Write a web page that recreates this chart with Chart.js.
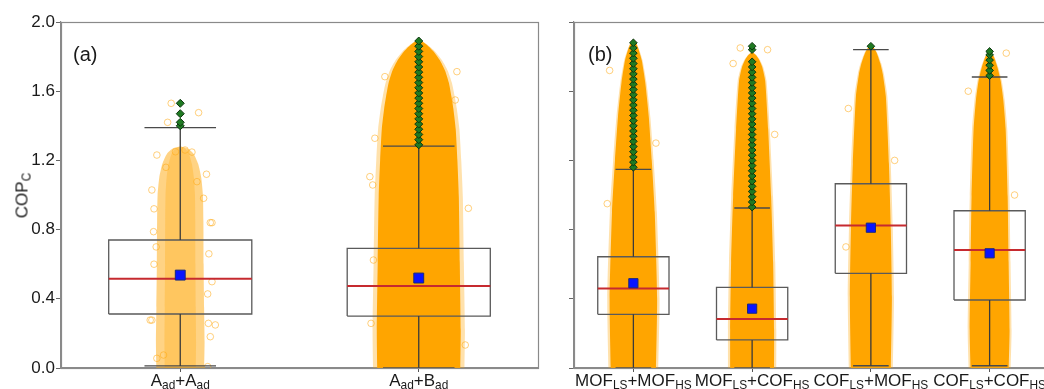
<!DOCTYPE html>
<html><head><meta charset="utf-8">
<script src="https://cdn.jsdelivr.net/npm/chart.js@4.4.1/dist/chart.umd.min.js"></script>
<style>
html,body{margin:0;padding:0;background:#fff;width:1044px;height:389px;overflow:hidden;position:relative;font-family:"Liberation Sans",Arial,sans-serif;color:#1a1a1a;}
#ca{position:absolute;left:0;top:0;}
#cb{position:absolute;left:540px;top:0;}
.lbl{position:absolute;white-space:nowrap;transform:translateX(-50%);}
.s{font-size:0.7em;vertical-align:-0.28em;line-height:0;}
#ytitle{position:absolute;width:200px;text-align:center;font-size:17px;line-height:17px;left:-78px;top:186.5px;transform:rotate(-90deg);}
.pl{position:absolute;font-size:20px;line-height:20px;top:44px;}
</style></head><body>
<canvas id="ca" width="548" height="389"></canvas>
<canvas id="cb" width="520" height="389"></canvas>
<div id="ytitle">COP<span class="s">C</span></div>
<div class="pl" style="left:73px">(a)</div>
<div class="pl" style="left:588px">(b)</div>
<script>
const FONT = "'Liberation Sans', Arial, Helvetica, sans-serif";
const yTicks = [0.0, 0.4, 0.8, 1.2, 1.6, 2.0];

// ---------- panel (a) ----------
const catsA = ['A_ad+A_ad', 'A_ad+B_ad'];
const q1A   = [0.312, 0.300];
const medA  = [0.516, 0.474];
const q3A   = [0.740, 0.692];
const meanA = [0.537, 0.520];
const whLoA = [0.012, 0.000];
const whHiA = [1.390, 1.283];
const outA = [
  [1.40, 1.42, 1.47, 1.53],
  [1.29, 1.32, 1.35, 1.38, 1.41, 1.44, 1.47, 1.50, 1.53, 1.56, 1.59, 1.62, 1.65, 1.68, 1.71, 1.74, 1.77, 1.80, 1.83, 1.86, 1.89]
];
// jitter cloud envelope: [COP value, half spread in category units]
const cloudA = [
  [[-0.02,0.1],[0.15,0.102],[0.35,0.1],[0.6,0.098],[0.85,0.097],[1.0,0.095],[1.1,0.088],[1.18,0.075],[1.24,0.055],[1.27,0.03],[1.28,0.0]],
  [[-0.02,0.174],[0.22,0.176],[0.61,0.172],[0.99,0.168],[1.2,0.162],[1.38,0.155],[1.5,0.145],[1.57,0.137],[1.65,0.126],[1.72,0.11],[1.78,0.088],[1.83,0.062],[1.87,0.032],[1.90,0.0]]
];
// isolated scatter points: [offset in category units, COP value]
const strayA = [
  [[-0.038,1.53],[0.077,1.476],[-0.053,1.42],[-0.098,1.231],[0.049,1.248],[-0.119,1.029],[0.07,1.077],[0.098,0.981],[0.133,0.84],[0.126,0.84],[-0.112,0.788],[-0.101,0.70],[0.133,0.499],[0.115,0.428],[-0.119,0.277],[-0.126,0.277],[0.147,0.249],[0.126,0.181],[-0.07,0.075],[0.115,0.008],[-0.098,0.056],[0.118,0.258],[-0.11,0.60],[0.12,0.66],[-0.11,0.92],[0.11,1.12],[-0.06,1.16],[0.02,1.26],[-0.02,1.25]],
  [[-0.205,1.106],[-0.193,1.058],[-0.184,1.328],[0.208,0.923],[-0.19,0.624],[-0.2,0.258],[0.195,0.133],[-0.142,1.684],[0.153,1.549],[0.16,1.713]]
];

// ---------- panel (b) ----------
const catsB = ['MOF_LS+MOF_HS', 'MOF_LS+COF_HS', 'COF_LS+MOF_HS', 'COF_LS+COF_HS'];
const q1B   = [0.310, 0.162, 0.547, 0.393];
const medB  = [0.460, 0.283, 0.824, 0.682];
const q3B   = [0.643, 0.466, 1.065, 0.909];
const meanB = [0.490, 0.343, 0.811, 0.663];
const whLoB = [0.000, 0.000, 0.013, 0.013];
const whHiB = [1.148, 0.925, 1.840, 1.682];
const outB = [
  [1.16, 1.19, 1.22, 1.25, 1.28, 1.31, 1.34, 1.37, 1.40, 1.43, 1.46, 1.49, 1.52, 1.55, 1.58, 1.61, 1.64, 1.67, 1.70, 1.73, 1.76, 1.79, 1.82, 1.85, 1.88],
  [0.93, 0.96, 0.99, 1.02, 1.05, 1.08, 1.11, 1.14, 1.17, 1.20, 1.23, 1.26, 1.29, 1.32, 1.35, 1.38, 1.41, 1.44, 1.47, 1.50, 1.53, 1.56, 1.59, 1.62, 1.65, 1.68, 1.71, 1.74, 1.77, 1.84, 1.86],
  [1.86],
  [1.69, 1.72, 1.75, 1.78, 1.81, 1.83]
];
const cloudB = [
  [[-0.02,0.19],[0.4,0.2],[0.9,0.18],[1.2,0.155],[1.45,0.13],[1.65,0.1],[1.78,0.07],[1.84,0.045],[1.88,0.022],[1.90,0.0]],
  [[-0.02,0.185],[0.22,0.185],[0.61,0.177],[0.99,0.16],[1.38,0.135],[1.66,0.11],[1.74,0.085],[1.78,0.06],[1.81,0.03],[1.83,0.0]],
  [[-0.02,0.168],[0.41,0.177],[0.80,0.168],[1.18,0.152],[1.57,0.126],[1.7,0.1],[1.76,0.08],[1.82,0.05],[1.85,0.025],[1.87,0.0]],
  [[-0.02,0.16],[0.22,0.168],[0.61,0.16],[0.99,0.152],[1.38,0.135],[1.55,0.115],[1.66,0.093],[1.74,0.065],[1.8,0.035],[1.84,0.0]]
];
const strayB = [
  [[-0.2,1.72],[0.19,1.3],[-0.22,0.95]],
  [[-0.16,1.76],[0.19,1.35],[0.13,1.84],[-0.1,1.85]],
  [[-0.19,1.5],[0.2,1.2],[-0.21,0.7]],
  [[-0.18,1.6],[0.21,1.0],[0.14,1.82]]
];

// ---------- builders ----------
function envPts(i, env, k) {
  const left = env.map(([v, w]) => ({x: i - w * k, y: v}));
  const right = env.slice().reverse().map(([v, w]) => ({x: i + w * k, y: v}));
  return left.concat(right);
}
function seg(x1, y1, x2, y2, color, w, order) {
  return {type: 'line', data: [{x: x1, y: y1}, {x: x2, y: y2}], borderColor: color, borderWidth: w,
          pointRadius: 0, fill: false, order, clip: false, tension: 0};
}
function buildDatasets(P, sty) {
  const ds = [];
  P.cats.forEach((c, i) => {
    const bh = 0.3, ch = 0.15;
    const dense = sty.dense[i];
    ds.push({type: 'line', data: envPts(i, P.cloud[i], dense ? 1.1 : 1.0), fill: 'shape',
      backgroundColor: dense ? 'rgba(255,165,0,0.33)' : 'rgba(255,168,10,0.5)', borderColor: 'rgba(0,0,0,0)', borderWidth: 0,
      pointRadius: 0, tension: 0.2, order: 30});
    ds.push({type: 'line', data: envPts(i, P.cloud[i], dense ? 1.0 : 0.65), fill: 'shape',
      backgroundColor: dense ? '#FFA500' : 'rgba(255,165,0,0.28)', borderColor: 'rgba(0,0,0,0)', borderWidth: 0,
      pointRadius: 0, tension: 0.2, order: 29});
    ds.push({type: 'line', showLine: false, data: P.stray[i].map(([o, v]) => ({x: i + o, y: v})),
      pointStyle: 'circle', pointRadius: 3.3, backgroundColor: 'rgba(0,0,0,0)',
      borderColor: 'rgba(255,170,20,0.55)', pointBorderWidth: 1, order: 28});
    // box
    ds.push({type: 'line', data: [{x: i - bh, y: P.q1[i]}, {x: i + bh, y: P.q1[i]}, {x: i + bh, y: P.q3[i]}, {x: i - bh, y: P.q3[i]}, {x: i - bh, y: P.q1[i]}],
      borderColor: '#5a5a5a', borderWidth: 1.3, pointRadius: 0, fill: false, tension: 0, order: 10, clip: false});
    // whiskers & caps
    ds.push(seg(i, P.q3[i], i, P.hi[i], '#3a3a3a', 1.3, 9));
    ds.push(seg(i, P.q1[i], i, P.lo[i], '#3a3a3a', 1.3, 9));
    ds.push(seg(i - ch, P.hi[i], i + ch, P.hi[i], '#4a4a4a', 1.3, 9));
    ds.push(seg(i - ch, P.lo[i], i + ch, P.lo[i], '#4a4a4a', 1.3, 9));
    // median
    ds.push(seg(i - bh, P.med[i], i + bh, P.med[i], '#c62a2f', 2, 8));
    // outliers
    ds.push({type: 'line', showLine: false, data: P.out[i].map(v => ({x: i, y: v})),
      pointStyle: 'rectRot', pointRadius: sty.outR, backgroundColor: '#1f7a22', borderColor: '#0c350e',
      pointBorderWidth: 1, order: 5, clip: false});
    // mean
    ds.push({type: 'line', showLine: false, data: [{x: i, y: P.mean[i]}],
      pointStyle: 'rect', pointRadius: sty.meanR, backgroundColor: '#0a14ff', borderColor: '#1b2a7a',
      pointBorderWidth: 1, order: 1});
  });
  return ds;
}

const framePlugin = {
  id: 'frame',
  afterDraw(chart) {
    const {ctx, chartArea: a} = chart;
    ctx.save();
    ctx.strokeStyle = '#8a8a8a';
    ctx.lineWidth = 1.2;
    ctx.strokeRect(Math.round(a.left) + 0.5, Math.round(a.top) + 0.5, Math.round(a.right - a.left), Math.round(a.bottom - a.top));
    ctx.restore();
  }
};

function makeChart(id, P, sty) {
  return new Chart(document.getElementById(id), {
    type: 'line',
    data: {datasets: buildDatasets(P, sty)},
    plugins: [framePlugin],
    options: {
      responsive: false, animation: false, devicePixelRatio: 1,
      layout: {padding: {top: 22, right: sty.padRight, left: 0, bottom: 0}},
      plugins: {legend: {display: false}, tooltip: {enabled: false}},
      events: [],
      scales: {
        x: {type: 'linear', min: -0.5, max: P.cats.length - 0.5,
          afterBuildTicks: s => { s.ticks = P.cats.map((_, i) => ({value: i})); },
          afterFit: s => { s.height = 21; },
          ticks: {callback: () => '', font: {family: FONT, size: 17}},
          grid: {drawOnChartArea: false, drawTicks: true, tickLength: 4, color: '#555', lineWidth: 1},
          border: {display: true, color: '#8a8a8a', width: 1.2}},
        y: {type: 'linear', min: 0, max: 2,
          afterBuildTicks: s => { s.ticks = yTicks.map(v => ({value: v})); },
          afterFit: s => { s.width = sty.yWidth; },
          ticks: {display: sty.yLabels, callback: v => v.toFixed(1), color: '#1a1a1a', padding: 1, font: {family: FONT, size: 17}},
          grid: {drawOnChartArea: false, drawTicks: true, tickLength: 5, color: '#666', lineWidth: 1},
          border: {display: true, color: '#8a8a8a', width: 1.2}}
      }
    }
  });
}

const PA = {cats: catsA, q1: q1A, med: medA, q3: q3A, mean: meanA, lo: whLoA, hi: whHiA, out: outA, cloud: cloudA, stray: strayA};
const PB = {cats: catsB, q1: q1B, med: medB, q3: q3B, mean: meanB, lo: whLoB, hi: whHiB, out: outB, cloud: cloudB, stray: strayB};

const chartA = makeChart('ca', PA, {dense: [false, true], outR: 4, meanR: 7, padRight: 10, yWidth: 61, yLabels: true});
const chartB = makeChart('cb', PB, {dense: [true, true, true, true], outR: 3.8, meanR: 6.5, padRight: 11, yWidth: 34, yLabels: false});

function labelHTML(s) {
  return s.split('+').map(p => { const [m, sub] = p.split('_'); return m + (sub ? '<span class="s">' + sub + '</span>' : ''); }).join('+');
}
function placeLabels(chart, cats, offsetLeft, size) {
  const xs = chart.scales.x;
  cats.forEach((c, i) => {
    const d = document.createElement('div');
    d.className = 'lbl';
    d.style.fontSize = size + 'px';
    d.style.lineHeight = size + 'px';
    d.innerHTML = labelHTML(c);
    d.style.left = (offsetLeft + xs.getPixelForValue(i)) + 'px';
    d.style.top = (386 - 0.8465 * size) + 'px';
    document.body.appendChild(d);
  });
}
placeLabels(chartA, catsA, 0, 17);
placeLabels(chartB, catsB, 540, 17);
</script>
</body></html>
